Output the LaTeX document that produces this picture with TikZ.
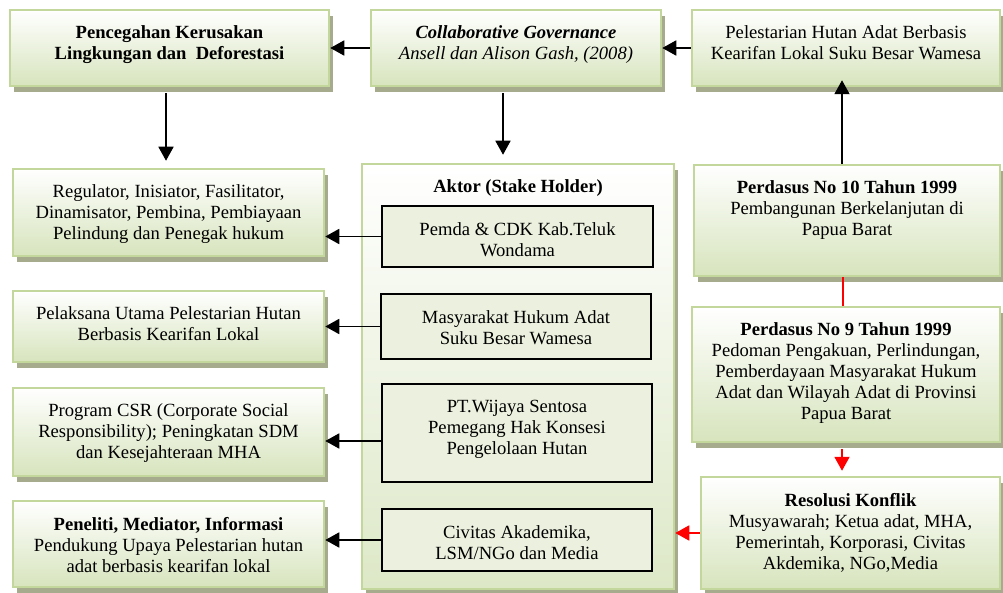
\documentclass[tikz,border=0pt]{standalone}
\usepackage{fontspec}
\setmainfont{Liberation Serif}
\newfontfamily\tnr{Liberation Serif}
\usetikzlibrary{arrows.meta,shadows,fit}
\definecolor{gborder}{HTML}{C3D69B}
\definecolor{gfill}{HTML}{D7E4BD}
\definecolor{gshadow}{HTML}{A6AB8E}
\definecolor{ifill}{HTML}{EBF1DE}
\begin{document}
\begin{tikzpicture}[x=1pt,y=-1pt,font=\tnr\fontsize{18.6}{21}\selectfont,
  gbox/.style={draw=gborder, line width=2.5pt, top color=white, bottom color=gfill, inner sep=0pt,
    general shadow={fill=gshadow, shadow xshift=4pt, shadow yshift=-6pt}},
  cbox/.style={gbox, top color=white, bottom color=gfill!85},
  ibox/.style={draw=black, line width=1.5pt, fill=ifill, inner sep=0pt},
  txt/.style={align=center, inner sep=0pt, anchor=north},
  arr/.style={-{Triangle[length=14pt,width=15pt]}, line width=1.8pt},
  rarr/.style={arr, draw=red, fill=red},
  rline/.style={line width=1.8pt, draw=red}]
\useasboundingbox (0,0) rectangle (1003,593);
% boxes
\node[gbox, fit={(10,10)(329,86)}] (A) {};
\node[gbox, fit={(371,10)(661,86)}] (B) {};
\node[gbox, fit={(692,10)(1000,86)}] (C) {};
\node[gbox, fit={(13,169)(324,256)}] (D) {};
\node[gbox, fit={(13,291)(324,362)}] (E) {};
\node[gbox, fit={(13,388)(324,476)}] (F) {};
\node[gbox, fit={(13,501)(324,587)}] (G) {};
\node[cbox, fit={(362,164)(674,589)}] (K) {};
\node[gbox, fit={(694,165)(1000,276)}] (P10) {};
\node[gbox, fit={(692,307)(1000,442)}] (P9) {};
\node[gbox, fit={(701,477)(1000,589)}] (R) {};
\node[ibox, fit={(382,206)(653,267)}] (I1) {};
\node[ibox, fit={(381,294)(651,359)}] (I2) {};
\node[ibox, fit={(382,384)(652,482)}] (I3) {};
\node[ibox, fit={(382,509)(652,571)}] (I4) {};
% texts
\node[txt] (At) at ([yshift=-17pt]A.north) {\textbf{Pencegahan Kerusakan}\\\textbf{Lingkungan dan\ \ Deforestasi}};
\node[txt] (Bt) at ([yshift=-17pt]B.north) {\textbf{\textit{Collaborative Governance}}\\\textit{Ansell dan Alison Gash, (2008)}};
\node[txt] (Ct) at ([yshift=-17pt]C.north) {Pelestarian Hutan Adat Berbasis\\Kearifan Lokal Suku Besar Wamesa};
\node[txt] (Dt) at ([yshift=-17pt]D.north) {Regulator, Inisiator, Fasilitator,\\Dinamisator, Pembina, Pembiayaan\\Pelindung dan Penegak hukum};
\node[txt] (Et) at ([yshift=-17pt]E.north) {Pelaksana Utama Pelestarian Hutan\\Berbasis Kearifan Lokal};
\node[txt] (Ft) at ([yshift=-17pt]F.north) {Program CSR (Corporate Social\\Responsibility); Peningkatan SDM\\dan Kesejahteraan MHA};
\node[txt] (Gt) at ([yshift=-17pt]G.north) {\textbf{Peneliti, Mediator, Informasi}\\Pendukung Upaya Pelestarian hutan\\adat berbasis kearifan lokal};
\node[txt] (Kt) at ([yshift=-17pt]K.north) {\textbf{Aktor (Stake Holder)}};
\node[txt] (I1t) at ([yshift=-17pt]I1.north) {Pemda \& CDK Kab.Teluk\\Wondama};
\node[txt] (I2t) at ([yshift=-17pt]I2.north) {Masyarakat Hukum Adat\\Suku Besar Wamesa};
\node[txt] (I3t) at ([yshift=-17pt]I3.north) {PT.Wijaya Sentosa\\Pemegang Hak Konsesi\\Pengelolaan Hutan};
\node[txt] (I4t) at ([yshift=-17pt]I4.north) {Civitas Akademika,\\LSM/NGo dan Media};
\node[txt] (P10t) at ([yshift=-17pt]P10.north) {\textbf{Perdasus No 10 Tahun 1999}\\Pembangunan Berkelanjutan di\\Papua Barat};
\node[txt] (P9t) at ([yshift=-17pt]P9.north) {\textbf{Perdasus No 9 Tahun 1999}\\Pedoman Pengakuan, Perlindungan,\\Pemberdayaan Masyarakat Hukum\\Adat dan Wilayah Adat di Provinsi\\Papua Barat};
\node[txt] (Rt) at ([yshift=-17pt]R.north) {\textbf{Resolusi Konflik}\\Musyawarah; Ketua adat, MHA,\\Pemerintah, Korporasi, Civitas\\Akdemika, NGo,Media};
% connectors
\draw[arr] (B.west) -- (A.east);
\draw[arr] (C.west) -- (B.east);
\draw[arr, shorten <=6pt, shorten >=7pt] ([xshift=-3.5pt]A.south) -- ([xshift=-3.5pt]A.south |- D.north);
\draw[arr, shorten <=6pt, shorten >=8pt] ([xshift=-13pt]B.south) -- ([xshift=-13pt]B.south |- K.north);
\draw[arr, shorten >=-7pt] ([xshift=-5pt]P10.north) -- ([xshift=-5pt]P10.north |- C.south);
\draw[arr] (I1.west) -- (I1.west -| D.east);
\draw[arr] (I2.west) -- (I2.west -| E.east);
\draw[arr] ([yshift=-8pt]I3.west) -- ([yshift=-8pt]I3.west -| F.east);
\draw[arr] (I4.west) -- (I4.west -| G.east);
\draw[rline] ([xshift=-4pt]P10.south) -- ([xshift=-4pt]P10.south |- P9.north);
\draw[rarr, shorten <=6pt, shorten >=5pt] ([xshift=-4pt]P9.south) -- ([xshift=-4pt]P9.south |- R.north);
\draw[rarr] (R.west) -- (R.west -| K.east);
\end{tikzpicture}
\end{document}
